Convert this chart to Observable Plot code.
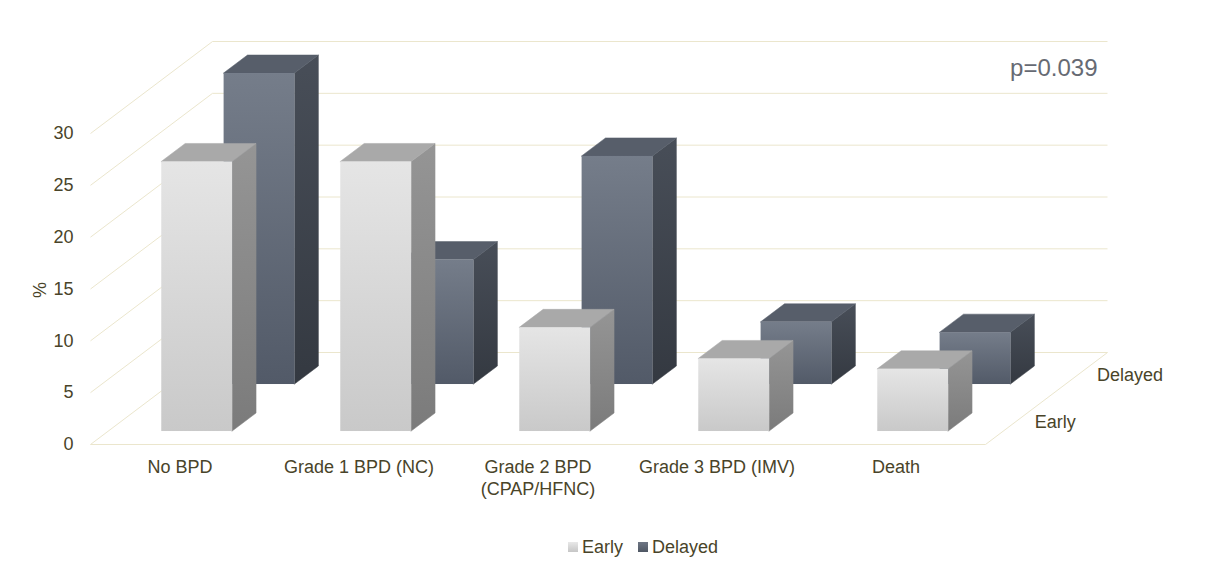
<!DOCTYPE html>
<html>
<head>
<meta charset="utf-8">
<script src="https://cdn.jsdelivr.net/npm/d3@7"></script>
<script src="https://cdn.jsdelivr.net/npm/@observablehq/plot@0.6"></script>
<style>
  html, body { margin: 0; padding: 0; background: #ffffff; }
  body { font-family: "Liberation Sans", Arial, sans-serif; width: 1216px; }
  #chart svg { display: block; }
  #legend { height: 49px; box-sizing: border-box; padding-top: 11px; padding-left: 568px;
            display: flex; align-items: flex-start; font-size: 18px; line-height: 22px; color: #494429; }
  .sw { width: 10px; height: 10px; margin-right: 4px; display: inline-block; }
  .item { display: flex; align-items: center; margin-right: 15px; height: 22px; }
</style>
</head>
<body>
<div id="chart"></div>
<div id="legend"></div>
<script>
// ---- data ----
const categories = ["No BPD", "Grade 1 BPD (NC)", "Grade 2 BPD\n(CPAP/HFNC)", "Grade 3 BPD (IMV)", "Death"];
const earlyValues = [26, 26, 10, 7, 6];
const delayedValues = [30, 12, 22, 6, 5];
const seriesNames = ["Early", "Delayed"];
const yTicks = [0, 5, 10, 15, 20, 25, 30];
const pLabel = "p=0.039";

// ---- 3D oblique projection settings ----
const kx = 122 / 179;   // depth shift in x units (full depth)
const ky = 92 / 10.367; // depth shift in y units (full depth)
const hw = 0.198;       // half bar width in category units
const textColor = "#494429";
const gridColor = "#ebe6cd";

const layers = [
  {name: "Delayed", values: delayedValues, z0: 0.652, z1: 0.848, front: "url(#fD)", side: "url(#sD)", top: "#575e6a"},
  {name: "Early", values: earlyValues, z0: 0.141, z1: 0.337, front: "url(#fE)", side: "url(#sE)", top: "#a9a9a9"}
];

const barMarks = [];
for (const L of layers) {
  const fronts = L.values.map((v, i) => ({
    x1: i + 0.5 - hw + L.z0 * kx, x2: i + 0.5 + hw + L.z0 * kx,
    y1: L.z0 * ky, y2: v + L.z0 * ky
  }));
  const sides = L.values.flatMap((v, i) => [L.z0, L.z1].map(z => ({
    id: i, x: i + 0.5 + hw + z * kx, y1: z * ky, y2: v + z * ky
  })));
  const tops = L.values.flatMap((v, i) => [L.z0, L.z1].map(z => ({
    id: i, y: v + z * ky, x1: i + 0.5 - hw + z * kx, x2: i + 0.5 + hw + z * kx
  })));
  barMarks.push(
    Plot.areaY(sides, {x: "x", y1: "y1", y2: "y2", z: "id", fill: L.side, stroke: L.side, strokeWidth: 0.5}),
    Plot.areaX(tops, {y: "y", x1: "x1", x2: "x2", z: "id", fill: L.top, stroke: L.top, strokeWidth: 0.5}),
    Plot.rect(fronts, {x1: "x1", x2: "x2", y1: "y1", y2: "y2", fill: L.front})
  );
}

const depthLabels = layers.map(L => ({name: L.name, zc: (L.z0 + L.z1) / 2}));

const chart = Plot.plot({
  width: 1216,
  height: 525,
  marginLeft: 90,
  marginRight: 231,
  marginTop: 133,
  marginBottom: 81,
  style: {fontFamily: "Liberation Sans, Arial, sans-serif", fontSize: "18px", color: textColor, background: "#ffffff", overflow: "visible"},
  x: {domain: [0, 5], axis: null},
  y: {domain: [0, 30]},
  marks: [
    // back wall gridlines
    Plot.link(yTicks, {x1: () => kx, x2: () => 5 + kx, y1: t => t + ky, y2: t => t + ky, stroke: gridColor, strokeWidth: 1}),
    // side wall gridlines
    Plot.link(yTicks, {x1: () => 0, x2: () => kx, y1: t => t, y2: t => t + ky, stroke: gridColor, strokeWidth: 1}),
    // floor front & right edge
    Plot.link([0], {x1: () => 0, x2: () => 5, y1: () => 0, y2: () => 0, stroke: gridColor, strokeWidth: 1}),
    Plot.link([0], {x1: () => 5, x2: () => 5 + kx, y1: () => 0, y2: () => ky, stroke: gridColor, strokeWidth: 1}),
    ...barMarks,
    Plot.axisY(yTicks, {tickSize: 0, tickPadding: 17, fontSize: 18, label: null, fill: textColor}),
    Plot.text(["%"], {frameAnchor: "left", dx: -50, dy: 9, rotate: -90, fontSize: 18, fill: textColor}),
    Plot.text(categories, {x: (d, i) => i + 0.5, y: () => 0, text: d => d, dy: 13, lineAnchor: "top", lineHeight: 1.22, fontSize: 18, fill: textColor}),
    Plot.text(depthLabels, {x: d => 5 + d.zc * kx, y: d => d.zc * ky, text: "name", dx: 20, textAnchor: "start", lineAnchor: "middle", fontSize: 18, fill: textColor}),
    Plot.text([pLabel], {x: () => 5 + kx, y: () => 30 + ky, text: d => d, dx: -10, dy: 34, textAnchor: "end", lineAnchor: "bottom", fontSize: 24, fill: "#666a73"})
  ]
});

// gradients
const defs = d3.select(chart).insert("defs", ":first-child");
function grad(id, c1, c2) {
  const g = defs.append("linearGradient").attr("id", id).attr("x1", 0).attr("y1", 0).attr("x2", 0).attr("y2", 1);
  g.append("stop").attr("offset", "0%").attr("stop-color", c1);
  g.append("stop").attr("offset", "100%").attr("stop-color", c2);
}
grad("fE", "#e5e5e5", "#c9c9c9");
grad("sE", "#959595", "#7b7b7b");
grad("fD", "#757d8a", "#525a68");
grad("sD", "#484e58", "#343941");

document.getElementById("chart").appendChild(chart);

// legend
const swatches = {Early: "linear-gradient(#e8e8e8,#c6c6c6)", Delayed: "linear-gradient(#6e7684,#4f5764)"};
const legend = d3.select("#legend");
for (const s of seriesNames) {
  const it = legend.append("div").attr("class", "item");
  it.append("span").attr("class", "sw").style("background", swatches[s]);
  it.append("span").text(s);
}
</script>
</body>
</html>
